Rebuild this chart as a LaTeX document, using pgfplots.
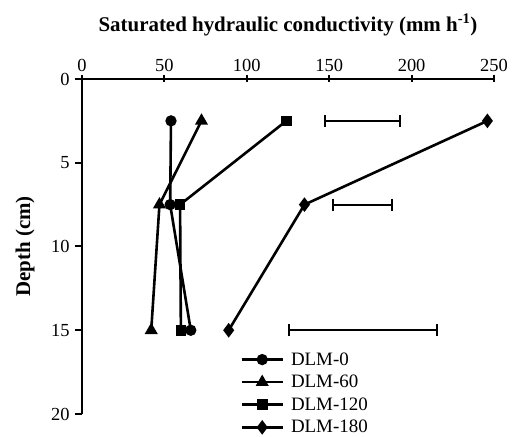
\documentclass[border=0pt]{standalone}
\usepackage{fontspec}
\setmainfont{Liberation Serif}
\usepackage{pgfplots}
\pgfplotsset{compat=1.18}
\begin{document}
\begin{tikzpicture}[x=1bp,y=1bp]
\path[use as bounding box] (0,0) rectangle (517,437);
\begin{axis}[
  at={(82bp,23bp)}, anchor=south west,
  scale only axis, width=412bp, height=335bp,
  xmin=0, xmax=250, ymin=0, ymax=20,
  y dir=reverse,
  axis x line*=top, axis y line*=left,
  axis line style={line width=2.4bp},
  xtick={0,50,...,250}, ytick={0,5,...,20},
  xtick align=center, ytick align=outside,
  major tick length=7bp,
  tick style={line width=2bp, black},
  tick label style={font=\fontsize{18.5}{20}\selectfont},
  yticklabel style={xshift=-2bp},
  /pgf/number format/assume math mode=true,
  xlabel={\textbf{Saturated hydraulic conductivity (mm h\textsuperscript{-1})}},
  ylabel={\textbf{Depth (cm)}},
  label style={font=\fontsize{21}{23}\selectfont},
  xlabel style={at={(axis description cs:0.5,1)}, anchor=center, yshift=54bp},
  ylabel style={at={(axis description cs:-0.138,0.5)}, anchor=center},
  s/.style={line width=2.6bp, black},
  e/.style={line width=2bp, black, mark=|, mark size=6bp, forget plot},
  legend style={at={(axis cs:96,16.2)}, anchor=north west, draw=none, fill=none,
    font=\fontsize{19}{20}\selectfont, row sep=4.5bp, inner sep=0pt,
    nodes={inner sep=2bp},
    /tikz/every odd column/.append style={column sep=5bp}},
  legend cell align=left,
  legend image code/.code={\draw[mark repeat=2,mark phase=2,#1] plot coordinates {(0bp,0bp) (20.5bp,0bp) (41bp,0bp)};},
]
\addplot[s, mark=*, mark size=4.3bp] coordinates {(54,2.5) (53.5,7.5) (66,15)};
\addlegendentry{DLM-0}
\addplot[s, mark=triangle*, mark size=5bp] coordinates {(72.5,2.5) (47,7.5) (42,15)};
\addlegendentry{DLM-60}
\addplot[s, mark=square*, mark size=4bp] coordinates {(124,2.5) (59.5,7.5) (60,15)};
\addlegendentry{DLM-120}
\addplot[s, mark=diamond*, mark size=5.2bp] coordinates {(246,2.5) (135,7.5) (89,15)};
\addlegendentry{DLM-180}
\addplot[e] coordinates {(147.5,2.5) (193,2.5)};
\addplot[e] coordinates {(152.5,7.5) (188,7.5)};
\addplot[e] coordinates {(125.5,15) (215.5,15)};
\end{axis}
\end{tikzpicture}
\end{document}
